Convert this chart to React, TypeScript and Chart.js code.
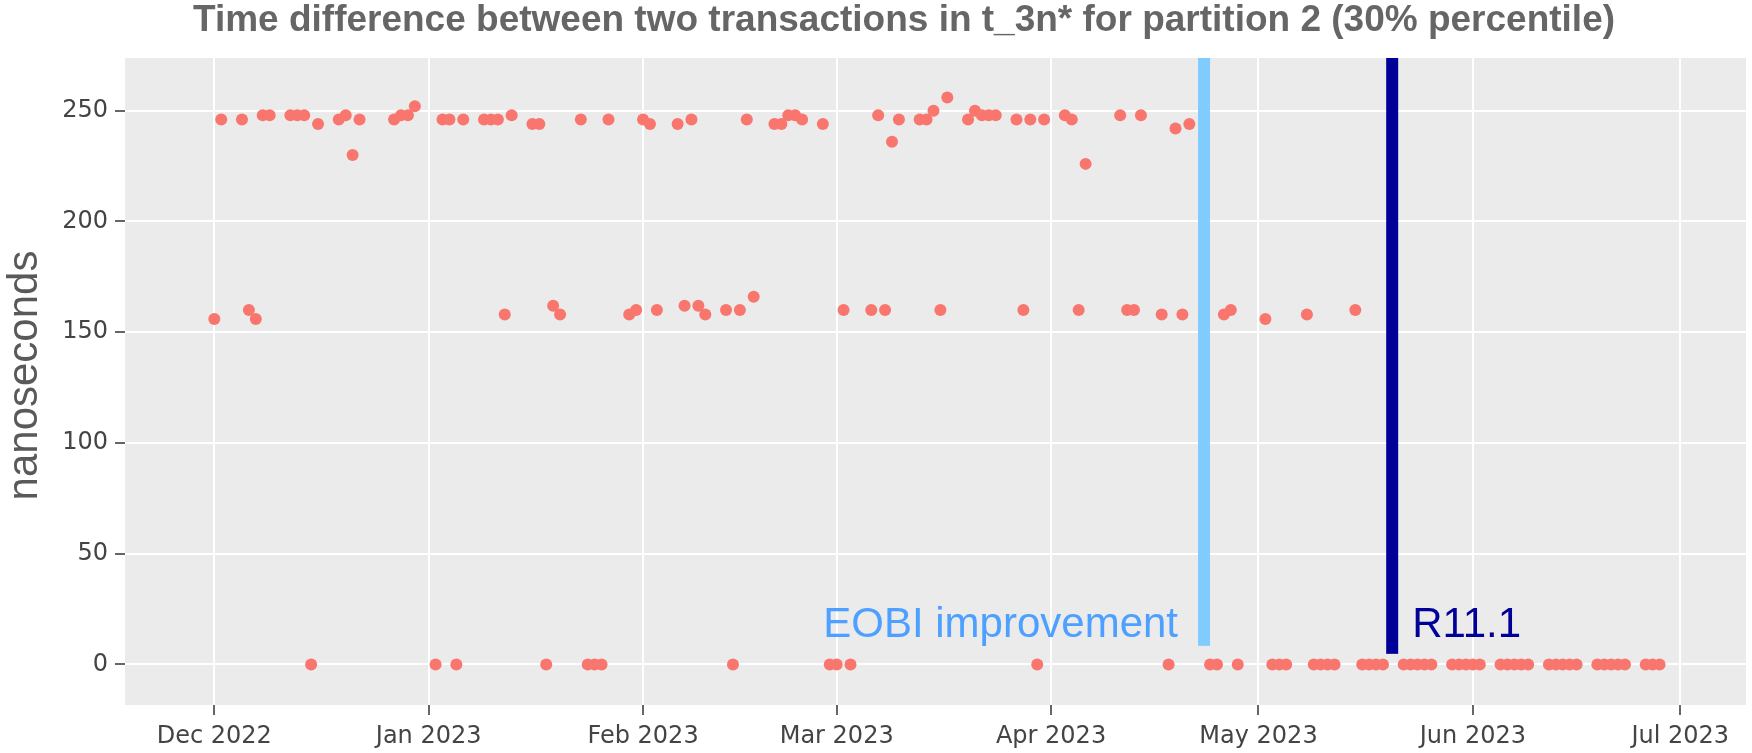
import React, { useEffect, useRef } from 'react';
import { Chart, registerables } from 'chart.js';

Chart.register(...registerables);

// ---- data ----
const dates: string[] = [
  '2022-12-01', '2022-12-02', '2022-12-05', '2022-12-06', '2022-12-07', '2022-12-08', '2022-12-09',
  '2022-12-12', '2022-12-13', '2022-12-14', '2022-12-15', '2022-12-16', '2022-12-19', '2022-12-20',
  '2022-12-21', '2022-12-22', '2022-12-27', '2022-12-28', '2022-12-29', '2022-12-30',
  '2023-01-02', '2023-01-03', '2023-01-04', '2023-01-05', '2023-01-06', '2023-01-09', '2023-01-10',
  '2023-01-11', '2023-01-12', '2023-01-13', '2023-01-16', '2023-01-17', '2023-01-18', '2023-01-19',
  '2023-01-20', '2023-01-23', '2023-01-24', '2023-01-25', '2023-01-26', '2023-01-27', '2023-01-30',
  '2023-01-31',
  '2023-02-01', '2023-02-02', '2023-02-03', '2023-02-06', '2023-02-07', '2023-02-08', '2023-02-09',
  '2023-02-10', '2023-02-13', '2023-02-14', '2023-02-15', '2023-02-16', '2023-02-17', '2023-02-20',
  '2023-02-21', '2023-02-22', '2023-02-23', '2023-02-24', '2023-02-27', '2023-02-28',
  '2023-03-01', '2023-03-02', '2023-03-03', '2023-03-06', '2023-03-07', '2023-03-08', '2023-03-09',
  '2023-03-10', '2023-03-13', '2023-03-14', '2023-03-15', '2023-03-16', '2023-03-17', '2023-03-20',
  '2023-03-21', '2023-03-22', '2023-03-23', '2023-03-24', '2023-03-27', '2023-03-28', '2023-03-29',
  '2023-03-30', '2023-03-31',
  '2023-04-03', '2023-04-04', '2023-04-05', '2023-04-06', '2023-04-11', '2023-04-12', '2023-04-13',
  '2023-04-14', '2023-04-17', '2023-04-18', '2023-04-19', '2023-04-20', '2023-04-21', '2023-04-24',
  '2023-04-25', '2023-04-26', '2023-04-27', '2023-04-28',
  '2023-05-02', '2023-05-03', '2023-05-04', '2023-05-05', '2023-05-08', '2023-05-09', '2023-05-10',
  '2023-05-11', '2023-05-12', '2023-05-15', '2023-05-16', '2023-05-17', '2023-05-18', '2023-05-19',
  '2023-05-22', '2023-05-23', '2023-05-24', '2023-05-25', '2023-05-26', '2023-05-29', '2023-05-30',
  '2023-05-31',
  '2023-06-01', '2023-06-02', '2023-06-05', '2023-06-06', '2023-06-07', '2023-06-08', '2023-06-09',
  '2023-06-12', '2023-06-13', '2023-06-14', '2023-06-15', '2023-06-16', '2023-06-19', '2023-06-20',
  '2023-06-21', '2023-06-22', '2023-06-23', '2023-06-26', '2023-06-27', '2023-06-28',
];

const values: number[] = [
  156, 246, 246, 160, 156, 248, 248,
  248, 248, 248, 0, 244, 246, 248,
  230, 246, 246, 248, 248, 252,
  0, 246, 246, 0, 246, 246, 246,
  246, 158, 248, 244, 244, 0, 162,
  158, 246, 0, 0, 0, 246, 158,
  160,
  246, 244, 160, 244, 162, 246, 162,
  158, 160, 0, 160, 246, 166, 244,
  244, 248, 248, 246, 244, 0,
  0, 160, 0, 160, 248, 160, 236,
  246, 246, 246, 250, 160, 256, 246,
  250, 248, 248, 248, 246, 160, 246,
  0, 246,
  248, 246, 160, 226, 248, 160, 160,
  248, 158, 0, 242, 158, 244, 0,
  0, 158, 160, 0,
  156, 0, 0, 0, 158, 0, 0,
  0, 0, 160, 0, 0, 0, 0,
  0, 0, 0, 0, 0, 0, 0,
  0,
  0, 0, 0, 0, 0, 0, 0,
  0, 0, 0, 0, 0, 0, 0,
  0, 0, 0, 0, 0, 0,
];

const tickDates: string[] = [
  '2022-12-01', '2023-01-01', '2023-02-01', '2023-03-01',
  '2023-04-01', '2023-05-01', '2023-06-01', '2023-07-01',
];
const tickLabels: string[] = [
  'Dec 2022', 'Jan 2023', 'Feb 2023', 'Mar 2023',
  'Apr 2023', 'May 2023', 'Jun 2023', 'Jul 2023',
];
const yTicks: number[] = [0, 50, 100, 150, 200, 250];

const markerDates: string[] = ['2023-04-23T03:00:00Z', '2023-05-20T08:00:00Z'];
const markerLabels: string[] = ['EOBI improvement', 'R11.1'];

const xRange: string[] = ['2022-11-18T02:00:00Z', '2023-07-10T12:00:00Z'];
const yRange: number[] = [-18.3, 273.8];

const TITLE = 'Time difference between two transactions in t_3n* for partition 2 (30% percentile)';
const Y_TITLE = 'nanoseconds';

// ---- helpers ----
const ORIGIN = Date.UTC(2022, 11, 1);
const toDay = (s: string) => (Date.parse(s.length === 10 ? s + 'T00:00:00Z' : s) - ORIGIN) / 86400000;

const W = 1752;
const H = 753;

const decorPlugin = {
  id: 'decor',
  beforeDraw(chart: any) {
    const { ctx, chartArea } = chart;
    ctx.save();
    ctx.fillStyle = '#ffffff';
    ctx.fillRect(0, 0, chart.width, chart.height);
    ctx.fillStyle = '#EBEBEB';
    ctx.fillRect(chartArea.left, chartArea.top, chartArea.right - chartArea.left, chartArea.bottom - chartArea.top);
    ctx.restore();
  },
  afterDatasetsDraw(chart: any) {
    const { ctx, chartArea, scales } = chart;
    const xs = scales.x;
    const ys = scales.y;
    const lineStyles = [
      { color: '#80CCFF', text: '#4DA0FF', bottom: 8.4, align: 'right', dx: -26 },
      { color: '#000099', text: '#000099', bottom: 4.8, align: 'left', dx: 20 },
    ];
    ctx.save();
    ctx.beginPath();
    ctx.rect(chartArea.left, chartArea.top, chartArea.right - chartArea.left, chartArea.bottom - chartArea.top);
    ctx.clip();
    markerDates.forEach((d, i) => {
      const st = lineStyles[i];
      const x = xs.getPixelForValue(toDay(d));
      const yb = ys.getPixelForValue(st.bottom);
      ctx.fillStyle = st.color;
      ctx.fillRect(x - 6, chartArea.top, 12, yb - chartArea.top);
      ctx.font = '42px "Liberation Sans", Arial, sans-serif';
      ctx.fillStyle = st.text;
      ctx.textAlign = st.align;
      ctx.textBaseline = 'alphabetic';
      ctx.fillText(markerLabels[i], x + st.dx, ys.getPixelForValue(12.4));
    });
    ctx.restore();

    // title
    ctx.save();
    ctx.font = 'bold 37px "Liberation Sans", Arial, sans-serif';
    ctx.fillStyle = '#666666';
    ctx.textAlign = 'center';
    ctx.textBaseline = 'alphabetic';
    ctx.fillText(TITLE, 904, 31);
    ctx.restore();

    // y title
    ctx.save();
    ctx.translate(37, 375.5);
    ctx.rotate(-Math.PI / 2);
    ctx.font = '42px "Liberation Sans", Arial, sans-serif';
    ctx.fillStyle = '#595959';
    ctx.textAlign = 'center';
    ctx.textBaseline = 'alphabetic';
    ctx.fillText(Y_TITLE, 0, 0);
    ctx.restore();
  },
};

export default function App() {
  const ref = useRef<HTMLCanvasElement | null>(null);

  useEffect(() => {
    document.body.style.margin = '0';
    const canvas = ref.current;
    if (!canvas) return;
    const points = dates.map((d, i) => ({ x: toDay(d), y: values[i] }));
    const tickFont = { family: '"DejaVu Sans", Verdana, sans-serif', size: 24 };
    const chart = new Chart(canvas, {
      type: 'scatter',
      data: {
        datasets: [
          {
            data: points,
            backgroundColor: '#F8766D',
            borderWidth: 0,
            pointRadius: 6,
            pointHoverRadius: 6,
          },
        ],
      },
      options: {
        responsive: false,
        animation: false,
        devicePixelRatio: 1,
        events: [],
        layout: { padding: { top: 58, right: 0, left: 0, bottom: 0 } },
        plugins: {
          legend: { display: false },
          title: { display: false },
          tooltip: { enabled: false },
        },
        scales: {
          x: {
            type: 'linear',
            min: toDay(xRange[0]),
            max: toDay(xRange[1]),
            afterBuildTicks: (scale: any) => {
              scale.ticks = tickDates.map((d) => ({ value: toDay(d) }));
            },
            afterFit: (scale: any) => {
              scale.height = 48;
            },
            ticks: {
              autoSkip: false,
              maxRotation: 0,
              minRotation: 0,
              padding: 7,
              color: '#444444',
              font: tickFont,
              callback: (_v: any, i: number) => tickLabels[i],
            },
            grid: {
              color: '#FFFFFF',
              lineWidth: 2,
              tickColor: '#333333',
              tickLength: 10,
              tickWidth: 1.5,
            },
            border: { display: false },
          },
          y: {
            type: 'linear',
            min: yRange[0],
            max: yRange[1],
            afterBuildTicks: (scale: any) => {
              scale.ticks = yTicks.map((v) => ({ value: v }));
            },
            afterFit: (scale: any) => {
              scale.width = 125;
            },
            ticks: {
              padding: 7,
              color: '#444444',
              font: tickFont,
              callback: (v: any) => String(v),
            },
            grid: {
              color: '#FFFFFF',
              lineWidth: 2,
              tickColor: '#333333',
              tickLength: 10,
              tickWidth: 1.5,
            },
            border: { display: false },
          },
        },
      } as any,
      plugins: [decorPlugin],
    });
    return () => chart.destroy();
  }, []);

  return (
    <div style={{ position: 'fixed', left: 0, top: 0, width: W, height: H, background: '#fff' }}>
      <canvas ref={ref} width={W} height={H} style={{ display: 'block', width: W, height: H }} />
    </div>
  );
}
